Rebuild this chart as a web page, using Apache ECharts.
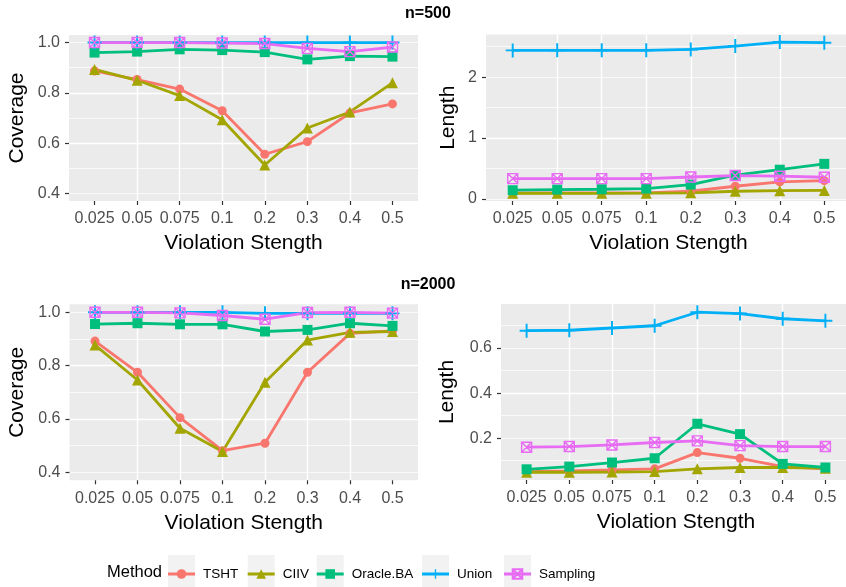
<!DOCTYPE html>
<html>
<head>
<meta charset="utf-8">
<title>Coverage and Length</title>
<script src="https://cdn.jsdelivr.net/npm/echarts@6/dist/echarts.min.js"></script>
<style>
  html, body { margin: 0; padding: 0; background: #fff; }
  #main { width: 846px; height: 587px; }
</style>
</head>
<body>
<div id="main"></div>
<script>
// x categories (violation strength)
const strengths = ["0.025", "0.05", "0.075", "0.1", "0.2", "0.3", "0.4", "0.5"];
const methods = ["TSHT", "CIIV", "Oracle.BA", "Union", "Sampling"];

// one row per method, same order as methods
const coverage500 = [
  [0.887, 0.853, 0.815, 0.729, 0.556, 0.606, 0.72, 0.756],
  [0.893, 0.85, 0.789, 0.693, 0.513, 0.66, 0.724, 0.84],
  [0.96, 0.964, 0.973, 0.97, 0.962, 0.933, 0.946, 0.944],
  [1, 1, 1, 1, 1, 1, 1, 1],
  [1, 1, 1, 0.998, 0.996, 0.977, 0.964, 0.982],
];
const length500 = [
  [0.099, 0.099, 0.099, 0.1, 0.126, 0.208, 0.28, 0.3],
  [0.092, 0.092, 0.092, 0.095, 0.1, 0.126, 0.135, 0.14],
  [0.143, 0.154, 0.159, 0.17, 0.236, 0.39, 0.48, 0.576],
  [2.439, 2.44, 2.44, 2.44, 2.455, 2.51, 2.576, 2.565],
  [0.334, 0.334, 0.334, 0.334, 0.36, 0.384, 0.373, 0.356],
];
const coverage2000 = [
  [0.892, 0.775, 0.605, 0.481, 0.509, 0.775, 0.921, 0.93],
  [0.877, 0.746, 0.565, 0.478, 0.738, 0.896, 0.925, 0.928],
  [0.956, 0.959, 0.955, 0.955, 0.928, 0.934, 0.959, 0.949],
  [1, 1, 1, 1, 0.996, 0.996, 0.996, 0.996],
  [1, 1, 0.998, 0.988, 0.974, 0.999, 1, 0.997],
];
const length2000 = [
  [0.052, 0.055, 0.059, 0.064, 0.136, 0.111, 0.074, 0.064],
  [0.049, 0.049, 0.05, 0.052, 0.064, 0.07, 0.07, 0.067],
  [0.062, 0.074, 0.092, 0.111, 0.264, 0.218, 0.086, 0.07],
  [0.677, 0.679, 0.689, 0.699, 0.759, 0.753, 0.73, 0.721],
  [0.16, 0.163, 0.17, 0.181, 0.188, 0.167, 0.163, 0.163],
];

// y tick labels per panel
const covTicks = [0.4, 0.6, 0.8, 1.0];
const len500Ticks = [0, 1, 2];
const len2000Ticks = [0.2, 0.4, 0.6];

const font = "'Liberation Sans', Arial, sans-serif";

// ggplot-ish look per method
const methodStyle = {
  TSHT: { color: "#F8766D", symbol: "circle", size: 9 },
  CIIV: { color: "#A3A500", symbol: "triangle", size: 11 },
  "Oracle.BA": { color: "#00BF7D", symbol: "rect", size: 10 },
  Union: { color: "#00B0F6", symbol: "path://M4.3,0 H5.7 V4.3 H10 V5.7 H5.7 V10 H4.3 V5.7 H0 V4.3 H4.3 Z", size: 14 },
  Sampling: { color: "#E76BF3", symbol: "path://M0,0 H10 V10 H0 Z M0,0 L10,10 M10,0 L0,10", size: 10, hollow: true },
};

// panel layout: grid box, y range (ggplot 5% expansion), tick steps
const panels = [
  { data: coverage500, yName: "Coverage", min: 0.37, max: 1.03, major: 0.2, minor: 0.1, ticks: covTicks, dec: 1,
    grid: { left: 69, top: 35, width: 349, height: 166 }, nameGap: 41 },
  { data: length500, yName: "Length", min: -0.034, max: 2.7, major: 1, minor: 0.5, ticks: len500Ticks, dec: 0,
    grid: { left: 486, top: 34.5, width: 365, height: 166.5 }, nameGap: 27 },
  { data: coverage2000, yName: "Coverage", min: 0.37, max: 1.03, major: 0.2, minor: 0.1, ticks: covTicks, dec: 1,
    grid: { left: 69.5, top: 304.3, width: 348.5, height: 176 }, nameGap: 42 },
  { data: length2000, yName: "Length", min: 0.0145, max: 0.7955, major: 0.2, minor: 0.1, ticks: len2000Ticks, dec: 1,
    grid: { left: 501, top: 304, width: 350, height: 176 }, nameGap: 43 },
];

// left edge of each legend key box
const keyLeft = [168, 247.7, 316.7, 422, 504];

const xIdx = strengths.map((s, i) => i);
const grids = [];
const xAxes = [];
const yAxes = [];
const series = [];

panels.forEach((p, k) => {
  grids.push(Object.assign({
    show: true, backgroundColor: "#EBEBEB", borderWidth: 0, containLabel: false, outerBoundsMode: "none",
  }, p.grid));

  // discrete x, drawn on a value axis so the padding is 0.6 like ggplot
  xAxes.push({
    type: "value", gridIndex: k, min: -0.6, max: 7.6, minInterval: 1, maxInterval: 1,
    name: "Violation Stength", nameLocation: "middle", nameGap: 32, nameMoveOverlap: false,
    nameTextStyle: { fontSize: 21, color: "#000", fontFamily: font },
    axisLine: { show: false, onZero: false },
    axisTick: { show: true, length: 4, customValues: xIdx, lineStyle: { color: "#333", width: 1.2 } },
    axisLabel: { customValues: xIdx, formatter: (v) => strengths[v], fontSize: 16, color: "#4D4D4D", margin: 10, fontFamily: font },
    splitLine: { show: true, showMinLine: false, showMaxLine: false, lineStyle: { color: "#fff", width: 1.4 } },
  });

  // major y axis
  yAxes.push({
    type: "value", gridIndex: k, position: "left", min: p.min, max: p.max, minInterval: p.major, maxInterval: p.major,
    name: p.yName, nameLocation: "middle", nameGap: p.nameGap, nameMoveOverlap: false,
    nameTextStyle: { fontSize: 21, color: "#000", fontFamily: font },
    axisLine: { show: false, onZero: false },
    axisTick: { show: true, length: 4, customValues: p.ticks, lineStyle: { color: "#333", width: 1.2 } },
    axisLabel: { customValues: p.ticks, formatter: (v) => v.toFixed(p.dec), fontSize: 16, color: "#4D4D4D", margin: 9, fontFamily: font },
    splitLine: { show: true, showMinLine: false, showMaxLine: false, lineStyle: { color: "#fff", width: 1.4 } },
  });
  // minor grid lines only
  yAxes.push({
    type: "value", gridIndex: k, position: "left", min: p.min, max: p.max, minInterval: p.minor, maxInterval: p.minor,
    axisLine: { show: false, onZero: false }, axisTick: { show: false }, axisLabel: { show: false },
    splitLine: { show: true, showMinLine: false, showMaxLine: false, lineStyle: { color: "#fff", width: 0.7 } },
  });

  p.data.forEach((vals, m) => {
    const st = methodStyle[methods[m]];
    series.push({
      name: methods[m],
      type: "line",
      xAxisIndex: k,
      yAxisIndex: 2 * k,
      data: vals.map((v, i) => [i, v]),
      symbol: st.symbol,
      symbolSize: st.size,
      lineStyle: { color: st.color, width: 2.8 },
      itemStyle: st.hollow
        ? { color: "rgba(0,0,0,0)", borderColor: st.color, borderWidth: 1.4 }
        : { color: st.color },
      emphasis: { disabled: true },
    });
  });
});

// one legend per key: grey box underneath, line+symbol+text on top
const legends = [];
methods.forEach((m, i) => {
  legends.push({
    data: [m], left: keyLeft[i], top: 555, padding: 0, z: 3, selectedMode: false,
    icon: "rect", itemWidth: 27, itemHeight: 36,
    itemStyle: { color: "#F2F2F2", borderWidth: 0 },
    textStyle: { fontSize: 13.5, color: "rgba(0,0,0,0)", fontFamily: font },
  });
  legends.push({
    data: [m], left: keyLeft[i] - 1.5, top: 567, padding: 0, z: 4, selectedMode: false,
    itemWidth: 27, itemHeight: 12,
    lineStyle: { width: 3 },
    textStyle: { fontSize: 13.5, color: "#000", fontFamily: font, padding: [0, 0, 0, 3] },
  });
});

const myChart = echarts.init(document.getElementById("main"));
const option = {
  animation: false,
  backgroundColor: "#fff",
  title: [
    { text: "n=500", left: 428, top: 6, textAlign: "center", padding: 0,
      textStyle: { fontSize: 16, fontWeight: "bold", color: "#000", fontFamily: font } },
    { text: "n=2000", left: 428, top: 277, textAlign: "center", padding: 0,
      textStyle: { fontSize: 16, fontWeight: "bold", color: "#000", fontFamily: font } },
    { text: "Method", left: 107, top: 564, padding: 0,
      textStyle: { fontSize: 16.5, fontWeight: "normal", color: "#000", fontFamily: font } },
  ],
  legend: legends,
  grid: grids,
  xAxis: xAxes,
  yAxis: yAxes,
  series: series,
};
myChart.setOption(option);

window.addEventListener("resize", function () {
  myChart.resize();
});
</script>
</body>
</html>
